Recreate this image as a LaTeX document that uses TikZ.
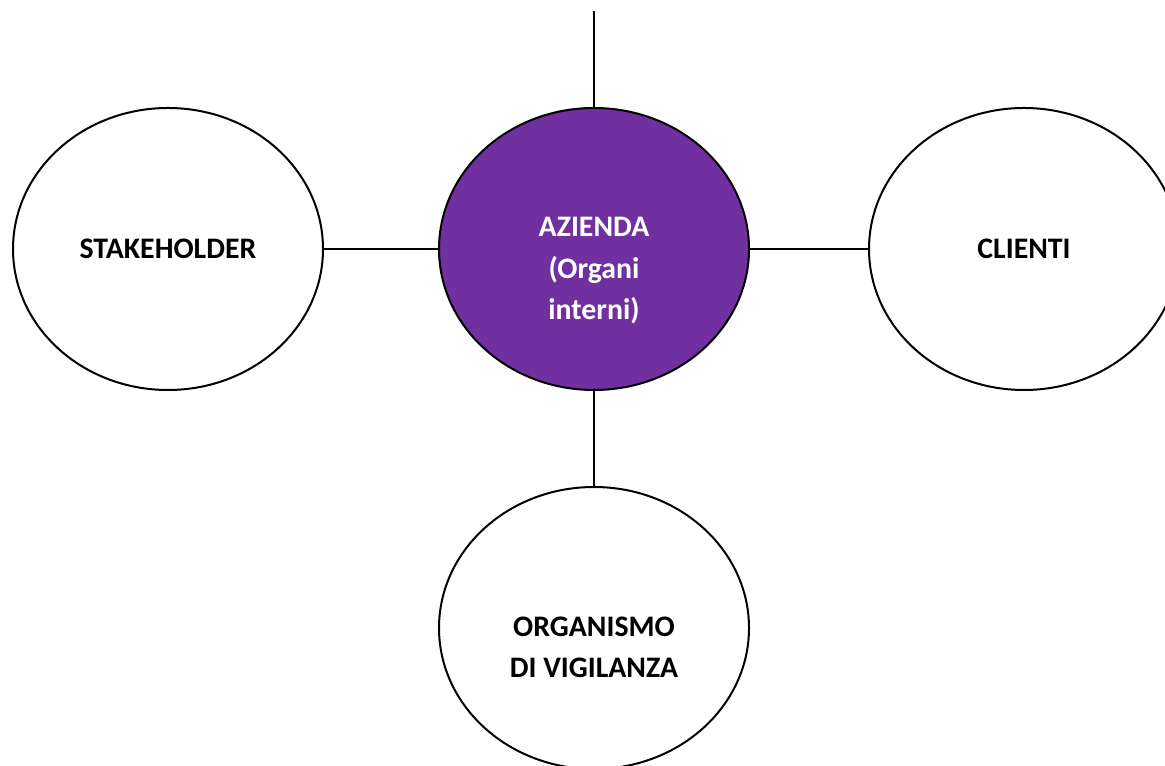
\documentclass[tikz,border=0pt]{standalone}
\usepackage{fontspec}
\setmainfont{Carlito}
\usetikzlibrary{positioning}
\usetikzlibrary{shapes.geometric}
\definecolor{aziendaviola}{RGB}{112,48,160}

\begin{document}
\begin{tikzpicture}[
    x=0.5pt, y=0.5pt,
    bubble/.style={
        draw,
        ellipse,
        line width=1pt,
        fill=white,
        minimum width=155pt,
        minimum height=141pt,
        inner sep=0pt,
        align=center,
        font=\fontsize{14.9}{20.8}\selectfont\bfseries
    },
    link/.style={line width=0.9pt}
]
\useasboundingbox (0,0) rectangle (1165,765);

% Main nodes
\node[bubble, fill=aziendaviola, text=white] (azienda) at (594,516) {
    \strut\\AZIENDA\\(Organi\\interni)\strut
};

\node[bubble, left=57pt of azienda] (stakeholder) {STAKEHOLDER};

\node[bubble, right=59pt of azienda] (clienti) {CLIENTI};

\node[bubble, below=47.5pt of azienda] (vigilanza) {
    \strut\\ORGANISMO\\DI VIGILANZA\strut
};

\coordinate (alto) at (594,754);

% Lines
\draw[link] (alto) -- (azienda);
\draw[link] (stakeholder) -- (azienda);
\draw[link] (azienda) -- (clienti);
\draw[link] (azienda) -- (vigilanza);

\end{tikzpicture}
\end{document}
